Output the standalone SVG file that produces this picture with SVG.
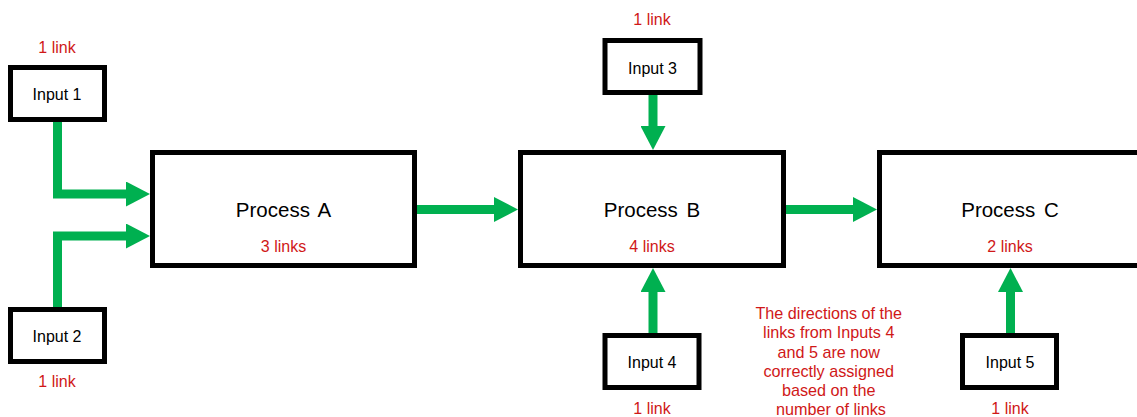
<svg xmlns="http://www.w3.org/2000/svg" width="1137" height="417" viewBox="0 0 1137 417">
  <style>
    .box { fill: #ffffff; stroke: #000000; stroke-width: 5; }
    .link { fill: none; stroke: #00B050; stroke-width: 9; stroke-linejoin: miter; }
    .lbl { font-family: "Liberation Sans", Arial, sans-serif; font-size: 16px; fill: #000000; text-anchor: middle; }
    .proc { font-family: "Liberation Sans", Arial, sans-serif; font-size: 20.5px; fill: #000000; text-anchor: middle; word-spacing: 3px; }
    .count { font-family: "Liberation Sans", Arial, sans-serif; font-size: 16px; fill: #D01818; text-anchor: middle; }
    .note { font-family: "Liberation Sans", Arial, sans-serif; font-size: 16.2px; fill: #D01818; text-anchor: middle; }
  </style>
  <defs>
    <marker id="head" markerUnits="userSpaceOnUse" markerWidth="24" markerHeight="25" refX="1" refY="12.5" orient="auto">
      <path d="M0,0 L24,12.5 L0,25 Z" fill="#00B050"/>
    </marker>
  </defs>

  <rect width="1137" height="417" fill="#ffffff"/>

  <!-- connectors -->
  <g id="connectors">
    <path class="link" d="M57.5,121 V194 H127" marker-end="url(#head)"/>
    <path class="link" d="M57.5,308 V236 H127" marker-end="url(#head)"/>
    <path class="link" d="M416,209.5 H495" marker-end="url(#head)"/>
    <path class="link" d="M653,94 V127" marker-end="url(#head)"/>
    <path class="link" d="M653,334 V291" marker-end="url(#head)"/>
    <path class="link" d="M785,209.5 H854" marker-end="url(#head)"/>
    <path class="link" d="M1010.5,334 V291" marker-end="url(#head)"/>
  </g>

  <!-- nodes -->
  <g id="input1">
    <text class="count" x="57" y="53">1 link</text>
    <rect class="box" x="10.5" y="67.5" width="94" height="52"/>
    <text class="lbl" x="57" y="100">Input 1</text>
  </g>
  <g id="input2">
    <rect class="box" x="10.5" y="309.5" width="94" height="52"/>
    <text class="lbl" x="57" y="342">Input 2</text>
    <text class="count" x="57" y="387">1 link</text>
  </g>
  <g id="input3">
    <text class="count" x="652" y="25">1 link</text>
    <rect class="box" x="605" y="40.5" width="95" height="52"/>
    <text class="lbl" x="652.5" y="73.5">Input 3</text>
  </g>
  <g id="input4">
    <rect class="box" x="605" y="335.5" width="94" height="52"/>
    <text class="lbl" x="652" y="368">Input 4</text>
    <text class="count" x="652" y="414">1 link</text>
  </g>
  <g id="input5">
    <rect class="box" x="962.5" y="335.5" width="94" height="52"/>
    <text class="lbl" x="1010" y="368">Input 5</text>
    <text class="count" x="1010" y="414">1 link</text>
  </g>
  <g id="processA">
    <rect class="box" x="152.5" y="152.5" width="262" height="113"/>
    <text class="proc" x="283.5" y="217">Process A</text>
    <text class="count" x="283.5" y="252">3 links</text>
  </g>
  <g id="processB">
    <rect class="box" x="520.5" y="152.5" width="263" height="113"/>
    <text class="proc" x="652" y="217">Process B</text>
    <text class="count" x="652" y="252">4 links</text>
  </g>
  <g id="processC">
    <rect class="box" x="879.5" y="152.5" width="261" height="113"/>
    <text class="proc" x="1010" y="217">Process C</text>
    <text class="count" x="1010" y="252">2 links</text>
  </g>

  <!-- note -->
  <g id="note">
    <text class="note" x="831">
      <tspan x="831" y="318.5">The directions of the</tspan>
      <tspan x="831" y="338">links from Inputs 4</tspan>
      <tspan x="831" y="357.5">and 5 are now</tspan>
      <tspan x="831" y="376.5">correctly assigned</tspan>
      <tspan x="831" y="396">based on the</tspan>
      <tspan x="831" y="415">number of links</tspan>
    </text>
  </g>
</svg>
